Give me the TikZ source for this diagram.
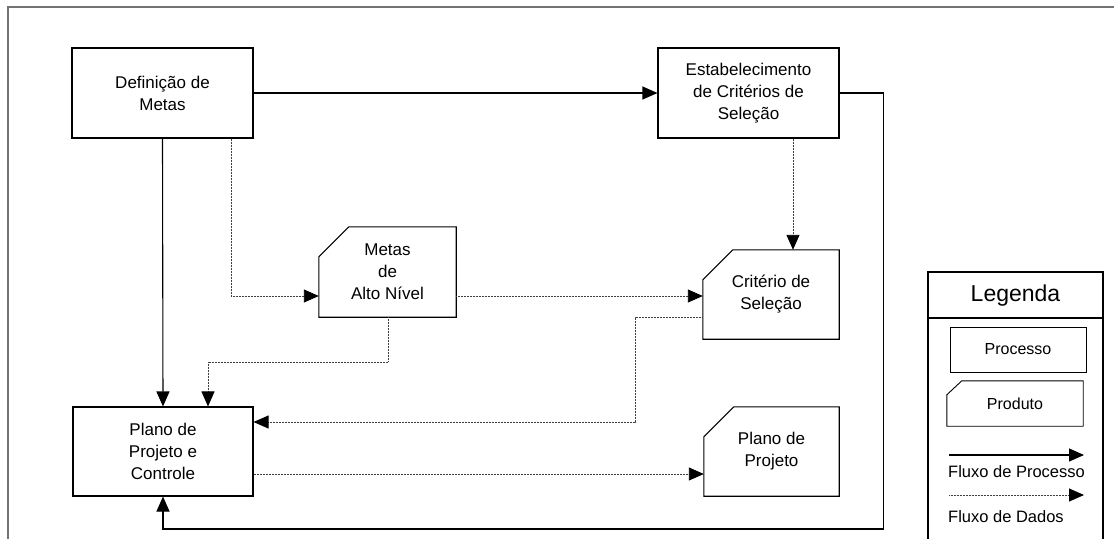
\documentclass[tikz,border=0pt]{standalone}
\usepackage{fontspec}
\setmainfont{Liberation Sans}
\usetikzlibrary{arrows.meta,calc}
\begin{document}
\begin{tikzpicture}[x=1pt,y=-1pt,
  every node/.style={font=\fontsize{17}{22}\selectfont, align=center, inner sep=0pt},
  proc/.style={draw, line width=1.1pt, minimum width=181pt, minimum height=90pt},
  prodbox/.style={minimum width=136pt, minimum height=89pt},
  prodline/.style={line width=1.1pt, line join=miter},
  flow/.style={line width=1.1pt, -{Triangle[length=15pt,width=13pt]}},
  data/.style={line width=0.9pt, black!75, dash pattern=on 1pt off 0.5pt, -{Triangle[length=15pt,width=13pt,color=black,fill=black]}},
  frameline/.style={line width=1.4pt, black!55}
]
\useasboundingbox (0,0) rectangle (1114,539);
% frame
\draw[frameline] (8,539) -- (8,7) -- (1114,7);

% process nodes
\node[proc] (def) at (162.5,93) {Definição de\\Metas};
\node[proc] (est) at (748.5,93) {Estabelecimento\\de Critérios de\\Seleção};
\node[proc, minimum width=180pt, minimum height=89pt] (ppc) at (163,451.5) {Plano de\\Projeto e\\Controle};

% product nodes
\node[prodbox, minimum width=137pt, minimum height=90pt] (mah) at (387.5,272) {Metas\\de\\Alto Nível};
\node[prodbox] (crit) at (771,294.5) {Critério de\\Seleção};
\node[prodbox, minimum width=135pt] (pp) at (771.5,451.5) {Plano de\\Projeto};
\foreach \n in {mah,crit,pp}{
  \draw[prodline] ([yshift=-30pt]\n.north west) -- ([xshift=30pt]\n.north west) -- (\n.north east) -- (\n.south east) -- (\n.south west) -- cycle;
}

% process flows
\draw[flow] (def.east) -- (est.west);
\draw[flow] (def.south) -- (ppc.north);
\coordinate (ret) at (883.5,529);
\draw[flow] (est.east) -| (ret) -| (ppc.south);

% data flows
\draw[data] ([xshift=68.5pt]def.south) |- ([yshift=-24pt]mah.west);
\draw[data] ([yshift=-24pt]mah.east) -- ([yshift=-24pt]mah.east -| crit.west);
\draw[data] ([xshift=44.5pt]est.south) -- ([xshift=44.5pt]est.south |- crit.north);
\draw[data] ([xshift=0.5pt]mah.south) -- ++(0,45) -| ([xshift=45pt]ppc.north);
\draw[data] ([yshift=-22.5pt]crit.west) -- ++(-67,0) |- ([yshift=29.5pt]ppc.east);
\draw[data] ([yshift=-22.5pt]ppc.east) -- ([yshift=-22.5pt]ppc.east -| pp.west);

% legend
\draw[line width=1.1pt] (928,539) -- (928,272) -- (1103,272) -- (1103,539);
\draw[line width=1.1pt] (928,318) -- (1103,318);
\node[font=\fontsize{23}{26}\selectfont] (leg) at (1015.5,296) {Legenda};
\node[draw, line width=0.9pt, minimum width=136pt, minimum height=45pt, font=\fontsize{16}{20}\selectfont] (lproc) at (1018,349.5) {Processo};
\node[minimum width=136pt, minimum height=45pt, font=\fontsize{16}{20}\selectfont] (lprod) at (1015,403.5) {Produto};
\draw[line width=0.9pt] ([yshift=-14pt]lprod.north west) -- ([xshift=15pt]lprod.north west) -- (lprod.north east) -- (lprod.south east) -- (lprod.south west) -- cycle;
\coordinate (ls1) at (949,455);
\coordinate (le1) at (1084,455);
\draw[flow] (ls1) -- (le1);
\node[anchor=base west, font=\fontsize{16.5}{20}\selectfont] (lt1) at (948,477) {Fluxo de Processo};
\coordinate (ls2) at (949,495);
\coordinate (le2) at (1084,495);
\draw[data] (ls2) -- (le2);
\node[anchor=base west, font=\fontsize{16.5}{20}\selectfont] (lt2) at (948,522) {Fluxo de Dados};
\end{tikzpicture}
\end{document}
